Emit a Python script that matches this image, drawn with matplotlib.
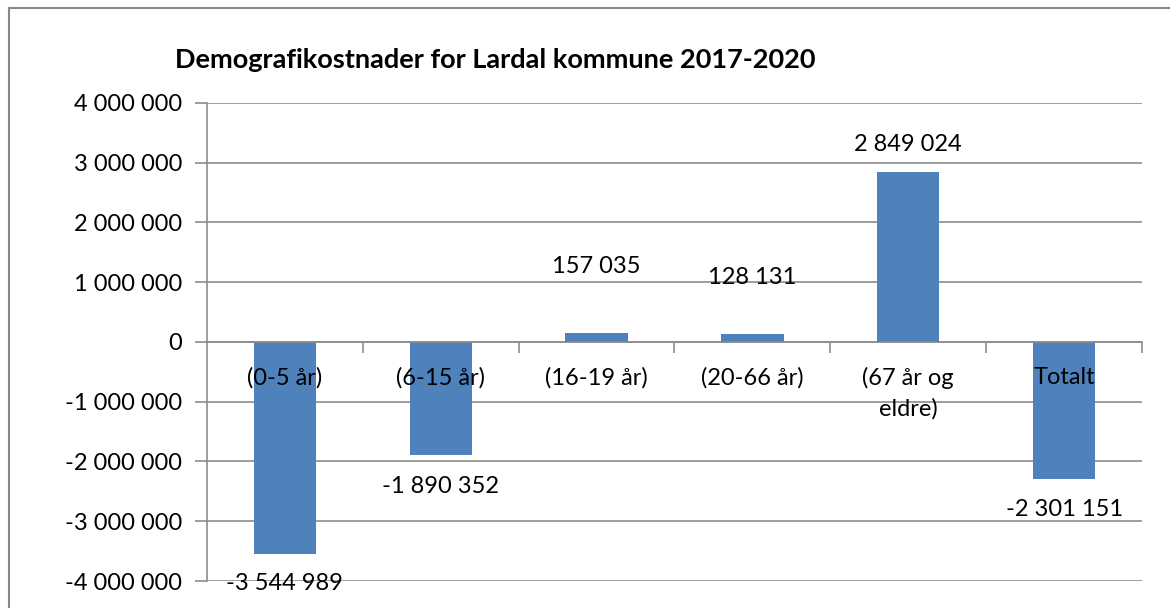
import matplotlib
matplotlib.use("Agg")
import matplotlib.pyplot as plt
from matplotlib.lines import Line2D
from matplotlib.ticker import FuncFormatter, FixedLocator

categories = ["(0-5 år)", "(6-15 år)", "(16-19 år)", "(20-66 år)", "(67 år og\neldre)", "Totalt"]
values = [-3544989, -1890352, 157035, 128131, 2849024, -2301151]
title = "Demografikostnader for Lardal kommune 2017-2020"
yticks = [-4000000, -3000000, -2000000, -1000000, 0, 1000000, 2000000, 3000000, 4000000]

# label offsets in pixels (style)
label_offsets_px = [-30, -32, 66, 57, 27, -30]

plt.rcParams['font.family'] = ['Lato', 'DejaVu Sans']
FS = 17
GRID = '#8c8c8c'
BAR = '#4F81BD'

W, H = 1170, 608
fig = plt.figure(figsize=(W/100, H/100), dpi=100)
ax = fig.add_axes([207/W, 1-581/H, (1142-207)/W, (581-103)/H])

x = list(range(len(categories)))
ax.bar(x, values, width=0.4, color=BAR, zorder=3)
ax.set_xlim(-0.5, len(categories)-0.5)
ax.set_ylim(yticks[0], yticks[-1])

ax.set_yticks(yticks)
ax.yaxis.set_major_formatter(FuncFormatter(lambda v, p: f"{int(v):,}".replace(",", " ")))
ax.tick_params(axis='y', direction='out', length=9, width=1.2, color=GRID, pad=9, labelsize=FS)
ax.yaxis.grid(True, color=GRID, linewidth=1.2, zorder=0)
ax.set_axisbelow(True)

ax.spines['bottom'].set_position(('data', 0))
for s in ['top', 'right']:
    ax.spines[s].set_visible(False)
for s in ['left', 'bottom']:
    ax.spines[s].set_color(GRID)
    ax.spines[s].set_linewidth(1.2)
ax.spines['bottom'].set_zorder(4)

ax.xaxis.set_major_locator(FixedLocator([i + 0.5 for i in x]))
ax.xaxis.set_major_formatter(FuncFormatter(lambda v, p: ""))
ax.xaxis.set_minor_locator(FixedLocator(x))
ax.set_xticklabels(categories, minor=True)
ax.tick_params(axis='x', which='major', direction='out', length=8, width=1.2, color=GRID)
ax.tick_params(axis='x', which='minor', length=0, pad=18, labelsize=FS)
for t in ax.xaxis.get_minorticklabels():
    t.set_linespacing(1.5)
ax.xaxis.set_zorder(5)

for xi, v, off in zip(x, values, label_offsets_px):
    ax.annotate(f"{v:,}".replace(",", " "), (xi, v), xytext=(0, off*0.72),
                textcoords='offset points', ha='center', va='center', fontsize=FS, zorder=6)

fig.text(495/W, 1-60/H, title, ha='center', va='center', fontsize=19.5, fontweight='bold')

fig.add_artist(Line2D([9/W, 9/W], [0, 1-8/H], color='#888888', linewidth=1.5, transform=fig.transFigure))
fig.add_artist(Line2D([9/W, 1], [1-8/H, 1-8/H], color='#888888', linewidth=1.5, transform=fig.transFigure))

fig.savefig("out.png", dpi=100)
